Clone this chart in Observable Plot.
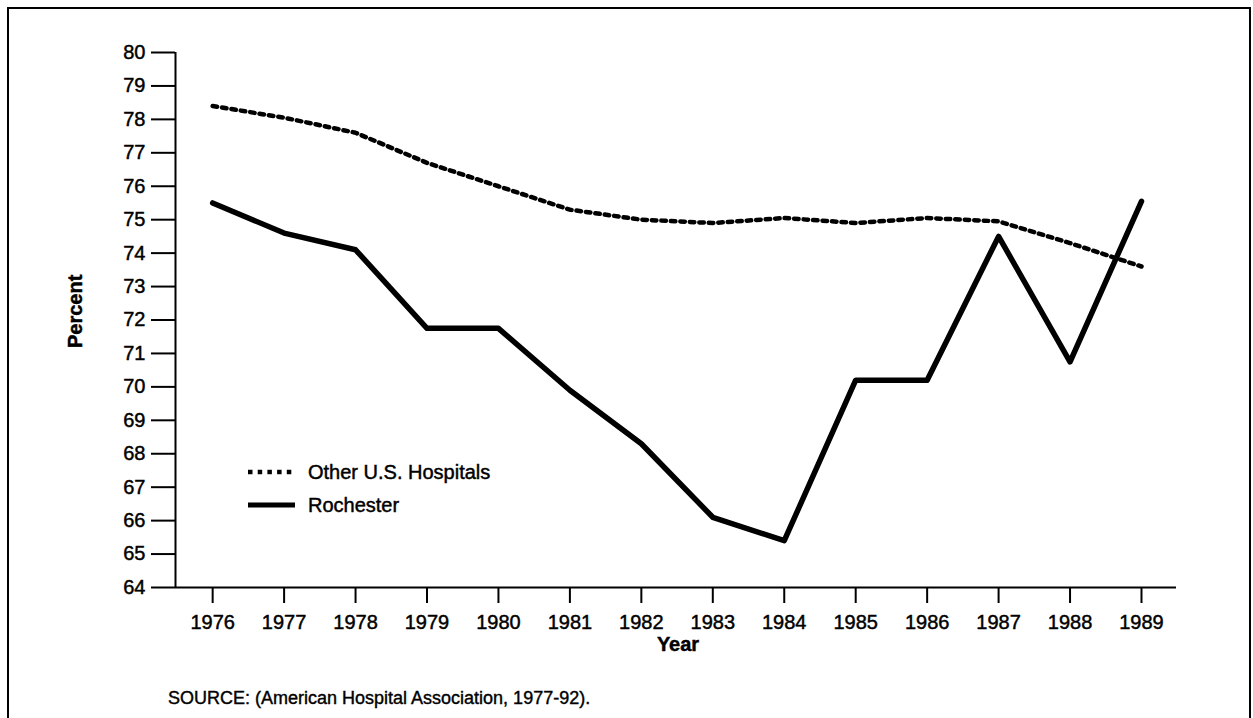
<!DOCTYPE html>
<html><head><meta charset="utf-8">
<script src="https://cdn.jsdelivr.net/npm/d3@7"></script>
<script src="https://cdn.jsdelivr.net/npm/@observablehq/plot@0.6"></script>
<style>
html,body{margin:0;padding:0;background:#fff;overflow:hidden;}
#wrap{position:relative;width:1253px;height:718px;overflow:hidden;font-family:"Liberation Sans",Arial,Helvetica,sans-serif;color:#000;}
#border{position:absolute;left:7px;top:7px;width:1244px;height:740px;border:2px solid #000;box-sizing:border-box;}
#chart{position:absolute;left:0;top:0;}
#chart text{stroke:#000;stroke-width:0.45px;}
.leg{position:absolute;left:248px;height:24px;display:flex;align-items:center;font-size:20px;-webkit-text-stroke:0.45px #000;}
.leg svg{margin-right:13px;}
#caption{position:absolute;left:168px;top:687px;font-size:18px;line-height:22px;-webkit-text-stroke:0.4px #000;}
</style>
</head><body>
<div id="wrap">
  <div id="border"></div>
  <div id="chart"></div>
  <div class="leg" style="top:460px"><svg width="47" height="24"><line x1="0" x2="47" y1="12" y2="12" stroke="#000" stroke-width="4.5" stroke-dasharray="4.5,5.2"/></svg><span>Other U.S. Hospitals</span></div>
  <div class="leg" style="top:493px"><svg width="47" height="24"><line x1="0" x2="47" y1="12" y2="12" stroke="#000" stroke-width="5"/></svg><span>Rochester</span></div>
  <div id="caption">SOURCE: (American Hospital Association, 1977-92).</div>
</div>
<script>
const years = [1976, 1977, 1978, 1979, 1980, 1981, 1982, 1983, 1984, 1985, 1986, 1987, 1988, 1989];
const otherHospitals = [78.4, 78.05, 77.6, 76.7, 76.0, 75.3, 75.0, 74.9, 75.05, 74.9, 75.05, 74.95, 74.3, 73.6];
const rochester = [75.5, 74.6, 74.1, 71.75, 71.75, 69.9, 68.3, 66.1, 65.4, 70.2, 70.2, 74.5, 70.75, 75.55];
const yTicks = [64, 65, 66, 67, 68, 69, 70, 71, 72, 73, 74, 75, 76, 77, 78, 79, 80];
const xDomain = [1975.48, 1989.49];
const yDomain = [64, 80];
const xTitle = "Year";
const yTitle = "Percent";

const otherData = years.map((y, i) => ({year: y, value: otherHospitals[i]}));
const rochData = years.map((y, i) => ({year: y, value: rochester[i]}));

const chart = Plot.plot({
  width: 1253,
  height: 667,
  marginLeft: 175,
  marginRight: 77,
  marginTop: 52,
  marginBottom: 80,
  style: {fontFamily: '"Liberation Sans", Arial, Helvetica, sans-serif', fontSize: "20px", color: "#000", background: "transparent"},
  x: {domain: xDomain},
  y: {domain: yDomain},
  marks: [
    Plot.ruleY([yDomain[0]], {stroke: "#000", strokeWidth: 2}),
    Plot.ruleX([xDomain[0]], {stroke: "#000", strokeWidth: 2}),
    Plot.axisY({ticks: yTicks, tickSize: 24, tickPadding: 6, strokeWidth: 2, label: null, fontSize: 20}),
    Plot.axisX({ticks: years, tickFormat: d => String(d), tickSize: 16, tickPadding: 11, strokeWidth: 2, label: null, fontSize: 20}),
    Plot.line(otherData, {x: "year", y: "value", stroke: "#000", strokeWidth: 4.5, strokeDasharray: "4.5,5"}),
    Plot.line(rochData, {x: "year", y: "value", stroke: "#000", strokeWidth: 5.5, strokeLinejoin: "round"}),
    Plot.text([xTitle], {text: d => d, frameAnchor: "bottom", dy: 63, dx: 2, fontWeight: "bold", fontSize: 20}),
    Plot.text([yTitle], {text: d => d, frameAnchor: "left", rotate: -90, dx: -100, dy: 28, fontWeight: "bold", fontSize: 20})
  ]
});
document.getElementById("chart").appendChild(chart);
</script>
</body></html>
